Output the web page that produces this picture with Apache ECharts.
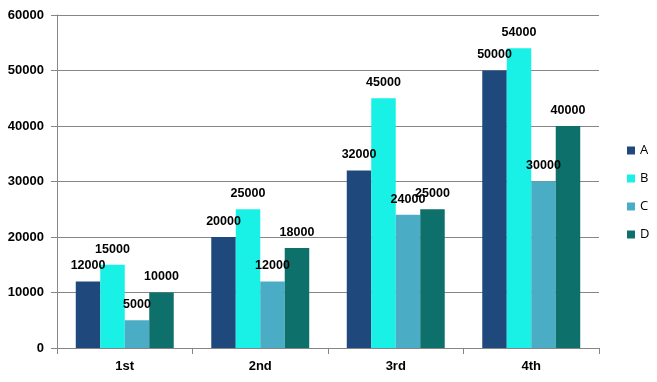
<!DOCTYPE html>
<html><head><meta charset="utf-8">
<script src="https://cdn.jsdelivr.net/npm/echarts@6/dist/echarts.min.js"></script>
<style>html,body{margin:0;padding:0;background:#fff}#c{width:657px;height:382px}</style>
</head><body><div id="c"></div>
<script>
var categories = ['1st', '2nd', '3rd', '4th'];
var seriesNames = ['A', 'B', 'C', 'D'];
var valuesA = [12000, 20000, 32000, 50000];
var valuesB = [15000, 25000, 45000, 54000];
var valuesC = [5000, 12000, 24000, 30000];
var valuesD = [10000, 18000, 25000, 40000];
var colors = ['#1F497D', '#19F0E6', '#4BACC6', '#0D706B'];
var allValues = [valuesA, valuesB, valuesC, valuesD];

var chart = echarts.init(document.getElementById('c'));
var axisColor = '#868686';
chart.setOption({
  animation: false,
  textStyle: {fontFamily: 'Liberation Sans, Arial, sans-serif'},
  grid: {left: 57, right: 58, top: 15, bottom: 34},
  legend: {
    orient: 'vertical', left: 622, top: 139,
    itemWidth: 8, itemHeight: 8, itemGap: 15,
    icon: 'rect',
    textStyle: {fontSize: 13, color: '#000', fontFamily: 'Open Sans, Liberation Sans, sans-serif'},
    data: seriesNames
  },
  xAxis: {
    type: 'category', data: categories,
    axisLine: {lineStyle: {color: axisColor}},
    axisTick: {show: true, length: 6, lineStyle: {color: axisColor}},
    axisLabel: {fontWeight: 'bold', fontSize: 13, color: '#000', margin: 12}
  },
  yAxis: {
    type: 'value', min: 0, max: 60000, interval: 10000,
    axisLine: {show: true, lineStyle: {color: axisColor}},
    axisTick: {show: true, length: 6, lineStyle: {color: axisColor}},
    splitLine: {lineStyle: {color: axisColor}},
    axisLabel: {fontWeight: 'bold', fontSize: 13, color: '#000', margin: 13,
      formatter: function (v) { return String(v); }}
  },
  series: seriesNames.map(function (n, i) {
    return {
      name: n, type: 'bar', data: allValues[i],
      itemStyle: {color: colors[i]},
      barGap: '0%', barCategoryGap: '27.7%',
      label: {show: true, position: 'top', distance: 9, fontWeight: 'bold', fontSize: 12.5, color: '#000'}
    };
  })
});
</script></body></html>
